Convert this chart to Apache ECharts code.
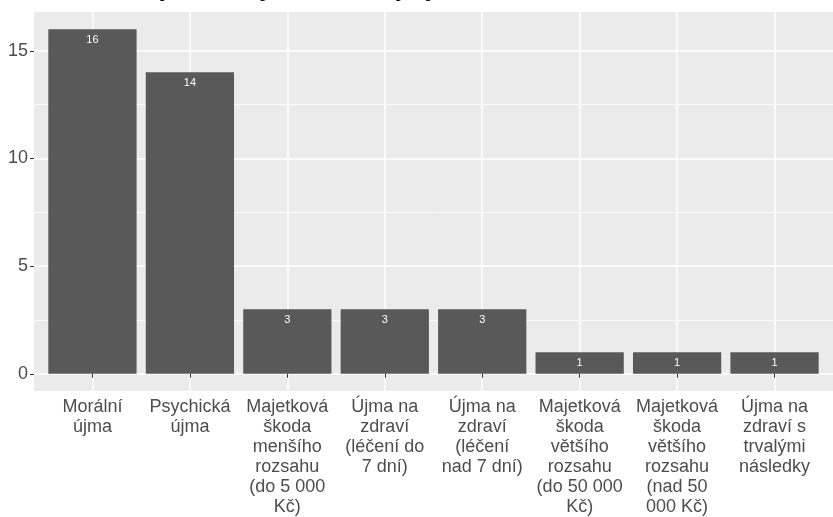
<!DOCTYPE html>
<html>
<head>
    <meta charset="utf-8" />
    <script src="https://cdn.jsdelivr.net/npm/echarts@6/dist/echarts.min.js"></script>
    <style>
        body { margin: 0; background: #fff; }
    </style>
</head>
<body>
    <div id="main" style="width: 833px;height: 517px;"></div>

    <script type="text/javascript">
        // data
        var categories = [
            'Morální újma',
            'Psychická újma',
            'Majetková škoda menšího rozsahu (do 5 000 Kč)',
            'Újma na zdraví (léčení do 7 dní)',
            'Újma na zdraví (léčení nad 7 dní)',
            'Majetková škoda většího rozsahu (do 50 000 Kč)',
            'Majetková škoda většího rozsahu (nad 50 000 Kč)',
            'Újma na zdraví s trvalými následky'
        ];
        var counts = [16, 14, 3, 3, 3, 1, 1, 1];
        var yTicks = [0, 5, 10, 15];
        var yMinor = [2.5, 7.5, 12.5];

        // like str_wrap(width = 10)
        function wrap(s, width) {
            var words = s.split(' ');
            var lines = [];
            var cur = '';
            words.forEach(function (w) {
                if (cur === '') cur = w;
                else if ((cur + ' ' + w).length <= width) cur += ' ' + w;
                else { lines.push(cur); cur = w; }
            });
            if (cur) lines.push(cur);
            return lines.join('\n');
        }

        var positions = categories.map(function (c, i) { return i + 1; });
        var barData = counts.map(function (v, i) { return [i + 1, v]; });

        var chartDom = document.getElementById('main');
        var myChart = echarts.init(chartDom);
        var panelW = 804;
        var font = '"Liberation Sans", Arial, sans-serif';

        var option = {
            animation: false,
            // title sits mostly above the visible area, as in the cropped original
            title: {
                text: 'Rozložení jednotlivých druhů újmy',
                left: 37,
                top: -28,
                textStyle: { fontFamily: font, fontSize: 24, fontWeight: 'bold', color: '#000' }
            },
            grid: {
                left: 34,
                top: 12,
                width: panelW,
                height: 379,
                show: true,
                backgroundColor: '#EBEBEB',
                borderWidth: 0
            },
            xAxis: {
                type: 'value',
                min: 0.4,
                max: 8.6,
                axisLine: { show: false },
                axisTick: {
                    show: true,
                    customValues: positions,
                    length: 4,
                    lineStyle: { color: '#333333', width: 1 }
                },
                axisLabel: {
                    customValues: positions,
                    margin: 6,
                    fontFamily: font,
                    fontSize: 18,
                    lineHeight: 20,
                    color: '#4D4D4D',
                    verticalAlign: 'top',
                    formatter: function (v) {
                        var c = categories[Math.round(v) - 1];
                        return c ? wrap(c, 10) : '';
                    }
                },
                splitLine: { show: true, lineStyle: { color: '#FFFFFF', width: 1.5 } }
            },
            yAxis: [{
                type: 'value',
                min: -0.8,
                max: 16.8,
                axisLine: { show: false },
                axisTick: {
                    show: true,
                    customValues: yTicks,
                    length: 4,
                    lineStyle: { color: '#333333', width: 1 }
                },
                axisLabel: {
                    customValues: yTicks,
                    margin: 6,
                    fontFamily: font,
                    fontSize: 18,
                    color: '#4D4D4D'
                },
                splitLine: { show: true, lineStyle: { color: '#FFFFFF', width: 1.5 } }
            }, {
                type: 'value',
                position: 'left',
                min: -0.8,
                max: 16.8,
                axisLine: { show: false },
                axisTick: { show: false, customValues: yMinor },
                axisLabel: { show: false, customValues: yMinor },
                splitLine: { show: true, lineStyle: { color: '#FFFFFF', width: 0.8 } }
            }],
            series: [{
                type: 'bar',
                data: barData,
                barWidth: 0.9 * panelW / 8.2,
                itemStyle: { color: '#595959' },
                label: {
                    show: true,
                    position: 'insideTop',
                    distance: 5,
                    color: '#FFFFFF',
                    fontFamily: font,
                    fontSize: 11
                }
            }]
        };
        myChart.setOption(option);
    </script>
</body>
</html>
